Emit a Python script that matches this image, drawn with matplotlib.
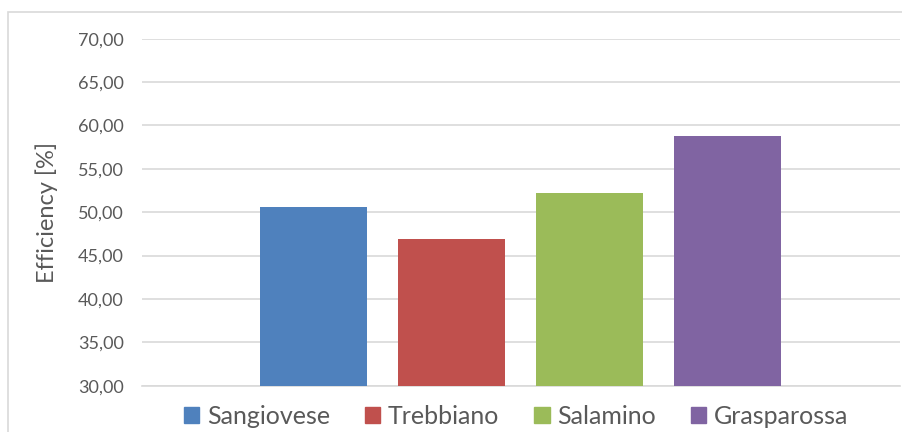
import matplotlib
matplotlib.use("Agg")
import matplotlib.pyplot as plt
from matplotlib.patches import Rectangle
from matplotlib.ticker import FuncFormatter

# efficiency per grape variety
varieties = ["Sangiovese", "Trebbiano", "Salamino", "Grasparossa"]
efficiency = [50.58, 46.92, 52.23, 58.73]
colors = ["#4F81BD", "#C0504D", "#9BBB59", "#8064A2"]
yticks = [30, 35, 40, 45, 50, 55, 60, 65, 70]

plt.rcParams["font.family"] = ["Lato", "DejaVu Sans"]
text_color = "#595959"
grid_color = "#d9d9d9"

fig = plt.figure(figsize=(9.03, 4.32), dpi=100)
ax = fig.add_axes([0.157, 0.1072, 0.8399, 0.8032])

# outer chart frame
fig.patches.append(Rectangle((8 / 903, -0.01), 1.0, (432 - 12) / 432 + 0.01,
                             transform=fig.transFigure, fill=False,
                             edgecolor=grid_color, linewidth=1.2))

x = range(len(varieties))
bars = ax.bar(x, efficiency, width=0.775, color=colors, zorder=3)

ax.set_ylim(30, 70)
ax.set_xlim(-1.245, 4.25)
ax.set_yticks(yticks)
ax.yaxis.set_major_formatter(FuncFormatter(lambda v, p: f"{v:.2f}".replace(".", ",")))
ax.set_xticks([])
ax.tick_params(axis="y", length=0, pad=13, labelsize=13, labelcolor=text_color)
ax.grid(axis="y", color=grid_color, linewidth=1.2, zorder=0)
for side in ["top", "right", "left"]:
    ax.spines[side].set_visible(False)
ax.spines["bottom"].set_color(grid_color)
ax.spines["bottom"].set_linewidth(1.2)

ax.set_ylabel("Efficiency [%]", fontsize=17, color=text_color, labelpad=14)

handles = [Rectangle((0, 0), 1, 1, color=c) for c in colors]
fig.legend(handles, varieties, loc="center", bbox_to_anchor=(516 / 903, 1 - 416 / 432),
           ncol=4, frameon=False, fontsize=18, labelcolor=text_color,
           handlelength=0.62, handleheight=0.62, handletextpad=0.3, columnspacing=1.4,
           borderpad=0)

fig.savefig("out.png", dpi=100)
